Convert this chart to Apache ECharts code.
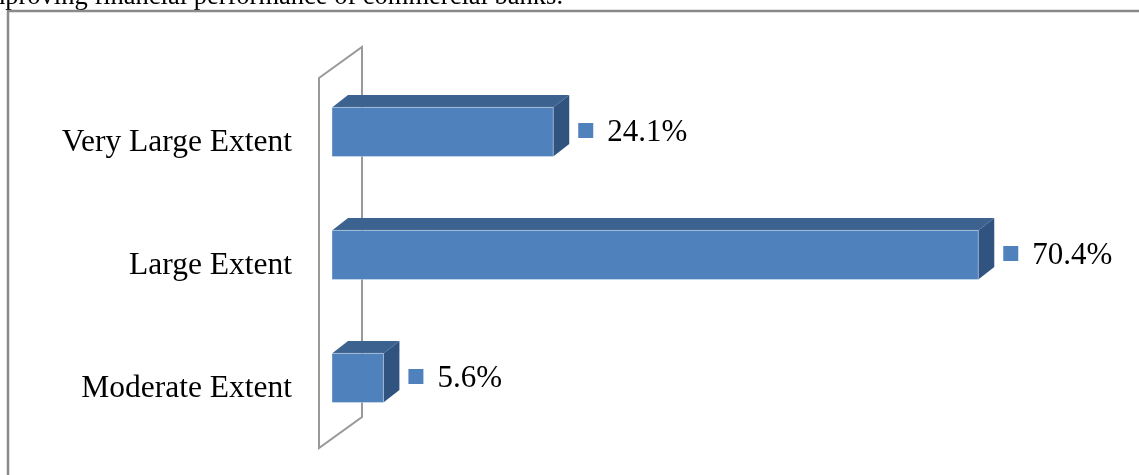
<!DOCTYPE html>
<html>
<head>
<meta charset="utf-8">
<script src="https://cdn.jsdelivr.net/npm/echarts@6/dist/echarts.min.js"></script>
<style>
  html, body { margin: 0; padding: 0; background: #fff; }
  #chart { width: 1139px; height: 475px; }
</style>
</head>
<body>
<div id="chart"></div>
<script>
// Survey responses, top to bottom
const categories = ['Very Large Extent', 'Large Extent', 'Moderate Extent'];
const percentages = [24.1, 70.4, 5.6];
const captionTail = 'improving financial performance of commercial banks.';

const FRONT = '#4F81BD';
const TOP = '#3C6390';
const SIDE = '#31537F';
const SERIF = '"Liberation Serif", "Times New Roman", serif';

const DEPTH_X = 16;   // 3D extrusion to the right
const DEPTH_Y = -12.5; // 3D extrusion upward
const LIFT = 11;      // front face sits above the category line

const chart = echarts.init(document.getElementById('chart'), null, { renderer: 'canvas' });

function renderBar(params, api) {
  const cat = api.value(0);
  const v = api.value(1);
  const start = api.coord([0, cat]);
  const end = api.coord([v, cat]);
  const h = api.size([0, 1])[1] * 0.4;
  const cy = start[1] - LIFT;
  const x0 = start[0], x1 = end[0];
  const y0 = cy - h / 2, y1 = cy + h / 2;
  const sq = 15;
  const sqX = x1 + 25;
  return {
    type: 'group',
    children: [
      {
        type: 'polygon',
        shape: { points: [[x0, y0], [x0 + DEPTH_X, y0 + DEPTH_Y], [x1 + DEPTH_X, y0 + DEPTH_Y], [x1, y0]] },
        style: { fill: TOP }
      },
      {
        type: 'polygon',
        shape: { points: [[x1, y0], [x1 + DEPTH_X, y0 + DEPTH_Y], [x1 + DEPTH_X, y1 + DEPTH_Y], [x1, y1]] },
        style: { fill: SIDE }
      },
      {
        type: 'rect',
        shape: { x: x0, y: y0, width: x1 - x0, height: h },
        style: { fill: FRONT, stroke: 'rgba(255,255,255,0.35)', lineWidth: 1 }
      },
      {
        type: 'rect',
        shape: { x: sqX, y: cy - 1.5 - sq / 2, width: sq, height: sq },
        style: { fill: FRONT }
      },
      {
        type: 'text',
        style: {
          x: sqX + 29, y: cy + 1,
          text: v.toFixed(1) + '%',
          font: '31px ' + SERIF,
          fill: '#000',
          align: 'left',
          verticalAlign: 'middle'
        }
      }
    ]
  };
}

chart.setOption({
  animation: false,
  backgroundColor: '#fff',
  grid: { left: 332, top: 81.5, width: 734.4, height: 369, containLabel: false },
  xAxis: {
    type: 'value', min: 0, max: 80,
    show: false
  },
  yAxis: {
    type: 'category',
    data: categories,
    inverse: true,
    axisLine: { show: false },
    axisTick: { show: false },
    axisLabel: {
      margin: 40,
      color: '#000',
      fontSize: 31.5,
      fontFamily: SERIF
    }
  },
  graphic: [
    {
      type: 'text',
      x: 563, y: -2.8,
      style: {
        text: captionTail,
        font: '26.5px ' + SERIF,
        fill: '#000',
        align: 'right',
        verticalAlign: 'middle'
      },
      z: 10
    },
    {
      type: 'polyline',
      shape: { points: [[8, 480], [8, 11], [1145, 11]] },
      style: { stroke: '#8a8a8a', lineWidth: 2.5, fill: null },
      z: 10
    },
    {
      type: 'polygon',
      shape: { points: [[319, 78], [362, 47], [362, 417], [319, 448]] },
      style: { stroke: '#999999', lineWidth: 2, fill: null },
      z: 0
    }
  ],
  series: [{
    type: 'custom',
    renderItem: renderBar,
    encode: { y: 0, x: 1 },
    data: percentages.map((v, i) => [i, v]),
    z: 5
  }]
});
</script>
</body>
</html>
